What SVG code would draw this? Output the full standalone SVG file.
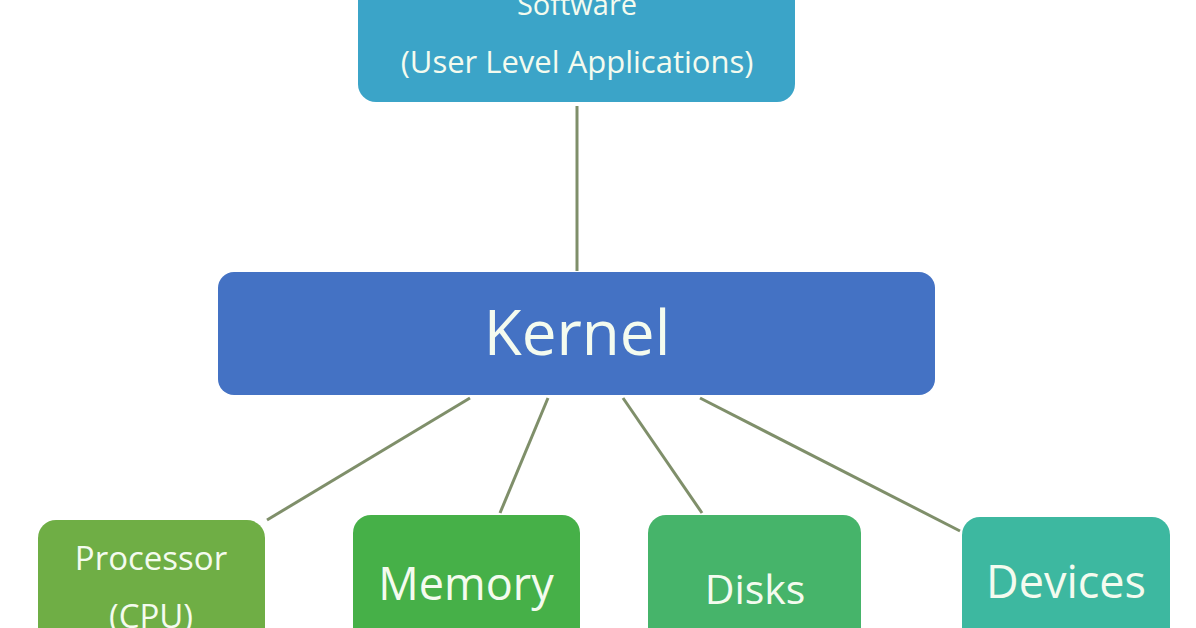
<svg xmlns="http://www.w3.org/2000/svg" width="1196" height="628" viewBox="0 0 1196 628">
<style>
text{font-family:"Open Sans","Liberation Sans",sans-serif;fill:#f4fbef;text-anchor:middle}
.c line{stroke:#7f8f6a;stroke-width:3}
</style>
<rect width="1196" height="628" fill="#fff"/>
<g class="c">
<line x1="577" y1="106" x2="577" y2="271"/>
<line x1="470" y1="398" x2="267" y2="520"/>
<line x1="548" y1="398" x2="500" y2="513"/>
<line x1="623" y1="398" x2="702" y2="513"/>
<line x1="700" y1="398" x2="960" y2="531"/>
</g>
<g id="software"><rect x="358" y="-25" width="437" height="127" rx="18" fill="#3ba4c8"/>
<text x="577" y="15" font-size="29">Software</text><text x="577" y="73" font-size="31">(User Level Applications)</text></g>
<g id="kernel"><rect x="218" y="272" width="717" height="123" rx="16" fill="#4472c4"/>
<text x="577" y="355" font-size="62">Kernel</text></g>
<g id="processor"><rect x="38" y="520" width="227" height="150" rx="18" fill="#6fae45"/>
<text x="151" y="570" font-size="33">Processor</text><text x="151" y="628" font-size="33">(CPU)</text></g>
<g id="memory"><rect x="353" y="515" width="227" height="150" rx="18" fill="#46b048"/>
<text x="466" y="600" font-size="45">Memory</text></g>
<g id="disks"><rect x="648" y="515" width="213" height="150" rx="18" fill="#46b46a"/>
<text x="755" y="604" font-size="41">Disks</text></g>
<g id="devices"><rect x="962" y="517" width="208" height="150" rx="18" fill="#3db8a0"/>
<text x="1066" y="598" font-size="45">Devices</text></g>
</svg>
